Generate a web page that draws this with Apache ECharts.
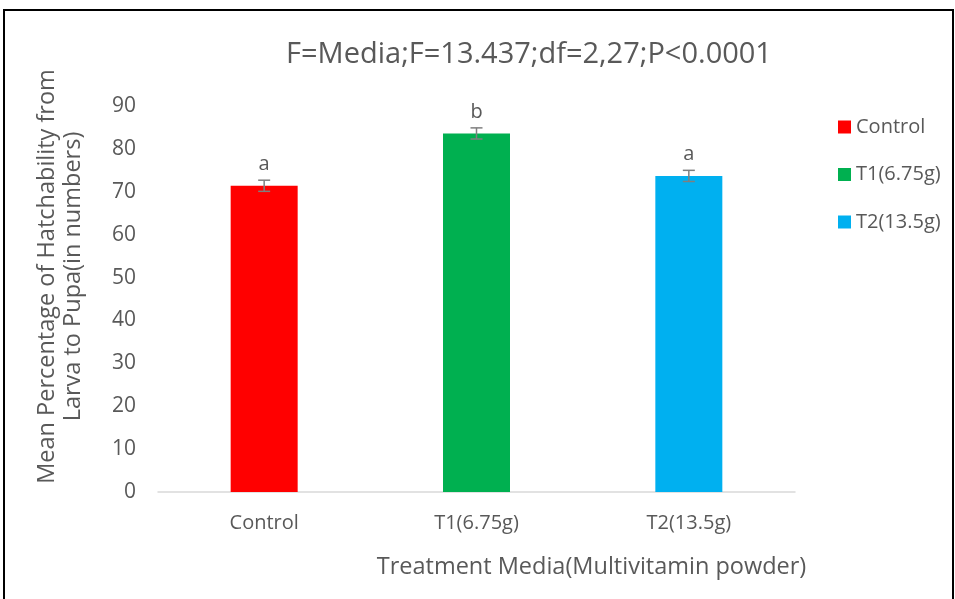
<!DOCTYPE html>
<html>
<head>
<meta charset="utf-8">
<script src="https://cdn.jsdelivr.net/npm/echarts@6/dist/echarts.min.js"></script>
<style>
  html, body { margin: 0; padding: 0; background: #fff; }
  #frame { position: absolute; left: 3px; top: 9px; width: 947px; height: 620px; border: 2px solid #000; }
  #chart { position: absolute; left: 0; top: 0; width: 955px; height: 599px; }
</style>
</head>
<body>
<div id="frame"></div>
<div id="chart"></div>
<script>
const categories = ['Control', 'T1(6.75g)', 'T2(13.5g)']
const means = [71.4, 83.6, 73.7]
const errors = [1.3, 1.3, 1.3]
const letters = ['a', 'b', 'a']
const colors = ['#ff0000', '#00b050', '#00b0f0']

const font = 'Open Sans'
const grey = '#595959'

const barSeries = categories.map((name, i) => ({
  name: name,
  type: 'bar',
  stack: 'one',
  barWidth: 67,
  itemStyle: { color: colors[i] },
  data: categories.map((c, j) => (j === i ? means[i] : '-'))
}))

// error bars and letters
const errSeries = {
  type: 'custom',
  silent: true,
  z: 10,
  data: means.map((m, i) => [i, m - errors[i], m + errors[i], letters[i]]),
  renderItem: function (params, api) {
    const lo = api.coord([api.value(0), api.value(1)])
    const hi = api.coord([api.value(0), api.value(2)])
    const x = lo[0]
    const w = 6
    const st = { stroke: '#7f7f7f', lineWidth: 1.5 }
    return {
      type: 'group',
      children: [
        { type: 'line', shape: { x1: x, y1: lo[1], x2: x, y2: hi[1] }, style: st },
        { type: 'line', shape: { x1: x - w, y1: lo[1], x2: x + w, y2: lo[1] }, style: st },
        { type: 'line', shape: { x1: x - w, y1: hi[1], x2: x + w, y2: hi[1] }, style: st },
        {
          type: 'text',
          style: {
            text: letters[params.dataIndex],
            x: x,
            y: hi[1] - 6,
            align: 'center',
            verticalAlign: 'bottom',
            fill: grey,
            font: '20px "' + font + '"'
          }
        }
      ]
    }
  }
}

const option = {
  backgroundColor: 'transparent',
  animation: false,
  title: {
    text: 'F=Media;F=13.437;df=2,27;P<0.0001',
    left: 524,
    textAlign: 'center',
    top: 35,
    textStyle: { color: grey, fontSize: 29, fontWeight: 'normal', fontFamily: font }
  },
  legend: {
    orient: 'vertical',
    left: 833,
    top: 112,
    itemWidth: 13,
    itemHeight: 13,
    itemGap: 27.5,
    icon: 'rect',
    data: categories,
    textStyle: { color: grey, fontSize: 20, fontFamily: font }
  },
  grid: { left: 158, right: 160, top: 106, bottom: 107 },
  xAxis: {
    type: 'category',
    data: categories,
    axisTick: { show: false },
    axisLine: { lineStyle: { color: '#d9d9d9', width: 1.5 } },
    axisLabel: { color: grey, fontSize: 20, fontFamily: font, margin: 21 },
    name: 'Treatment Media(Multivitamin powder)',
    nameLocation: 'middle',
    nameGap: 63,
    nameTextStyle: { color: grey, fontSize: 23.5, fontFamily: font, padding: [0, 0, 0, 230] }
  },
  yAxis: {
    type: 'value',
    min: 0,
    max: 90,
    interval: 10,
    splitLine: { show: false },
    axisLine: { show: false },
    axisLabel: { color: grey, fontSize: 21, fontFamily: font, margin: 22 },
    name: 'Mean Percentage of Hatchability from\nLarva to Pupa(in numbers)',
    nameLocation: 'middle',
    nameGap: 72,
    nameTextStyle: { color: grey, fontSize: 23.5, fontFamily: font, lineHeight: 26, padding: [0, 0, 0, 45] }
  },
  series: barSeries.concat([errSeries])
}

const chart = echarts.init(document.getElementById('chart'))
chart.setOption(option)
</script>
</body>
</html>
